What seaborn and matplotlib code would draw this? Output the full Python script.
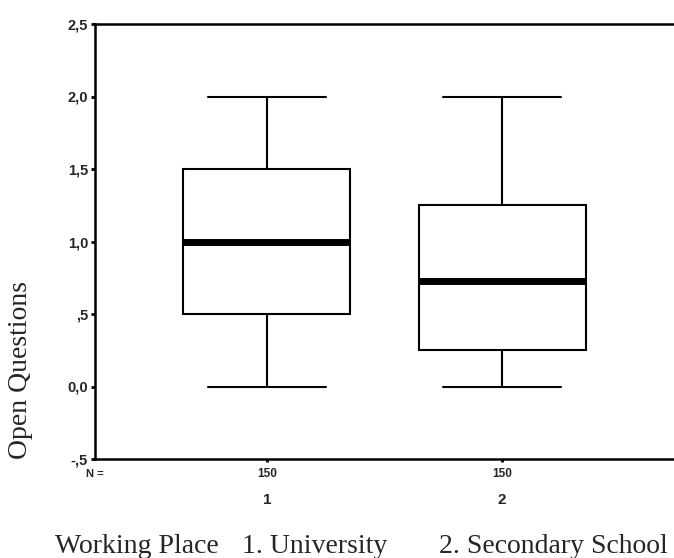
import pandas as pd
import matplotlib
matplotlib.use('Agg')
import matplotlib.pyplot as plt
import seaborn as sns

# 数据（从图中读取的五数概括）
groups = ['1', '2']
group1_values = [0.0, 0.5, 1.0, 1.5, 2.0]
group2_values = [0.0, 0.25, 0.73, 1.25, 2.0]
n_counts = [150, 150]
y_ticks = [-0.5, 0.0, 0.5, 1.0, 1.5, 2.0, 2.5]
y_tick_labels = ['-,5', '0,0', ',5', '1,0', '1,5', '2,0', '2,5']

df = pd.DataFrame({
    'place': [groups[0]] * len(group1_values) + [groups[1]] * len(group2_values),
    'score': group1_values + group2_values,
})

sns.set_theme(style='white')
plt.rcParams['font.family'] = ['Liberation Sans', 'DejaVu Sans']
serif = ['Liberation Serif', 'DejaVu Serif']

fig = plt.figure(figsize=(6.74, 5.58), dpi=100)
ax = fig.add_axes([95/674, 99/558, 579/674, 435/558])

sns.boxplot(data=df, x='place', y='score', order=groups, ax=ax,
            width=0.71, color='white', linecolor='black', linewidth=1.5,
            whis=1.5, fliersize=0,
            medianprops={'linewidth': 5, 'color': 'black'},
            capwidths=0.5)

ax.set_xlim(-0.73, 1.73)
ax.set_ylim(-0.5, 2.5)
ax.set_yticks(y_ticks)
ax.set_yticklabels(y_tick_labels, fontsize=10.5, fontweight='bold')
ax.set_xticks(range(len(groups)))
ax.set_xticklabels([])
ax.tick_params(axis='y', direction='out', length=3, width=2, pad=2, left=True, color='black')
ax.tick_params(axis='x', direction='out', length=2, width=2, bottom=True, color='black')

for side in ['left', 'top', 'bottom']:
    ax.spines[side].set_visible(True)
    ax.spines[side].set_color('black')
    ax.spines[side].set_linewidth(1.8)
ax.spines['right'].set_visible(False)

ax.set_xlabel('')
ax.set_ylabel('Open Questions', family=serif, fontsize=20)
ax.yaxis.set_label_coords(-0.107, 0.205)

# N 行与分组标签
tr = ax.get_xaxis_transform()
ax.text(-0.73, -0.034, 'N =', transform=tr, ha='center', va='center',
        fontsize=8, fontweight='bold')
for i, (g, n) in enumerate(zip(groups, n_counts)):
    ax.text(i, -0.034, str(n), transform=tr, ha='center', va='center',
            fontsize=8.5, fontweight='bold')
    ax.text(i, -0.094, g, transform=tr, ha='center', va='center',
            fontsize=11, fontweight='bold')

base_y = 1 - 553/558
fig.text(55/674, base_y, 'Working Place', family=serif, fontsize=20, va='baseline', ha='left')
fig.text(242/674, base_y, '1. University', family=serif, fontsize=20, va='baseline', ha='left')
fig.text(439/674, base_y, '2. Secondary School', family=serif, fontsize=20, va='baseline', ha='left')

fig.savefig('out.png', dpi=100, facecolor='white')
